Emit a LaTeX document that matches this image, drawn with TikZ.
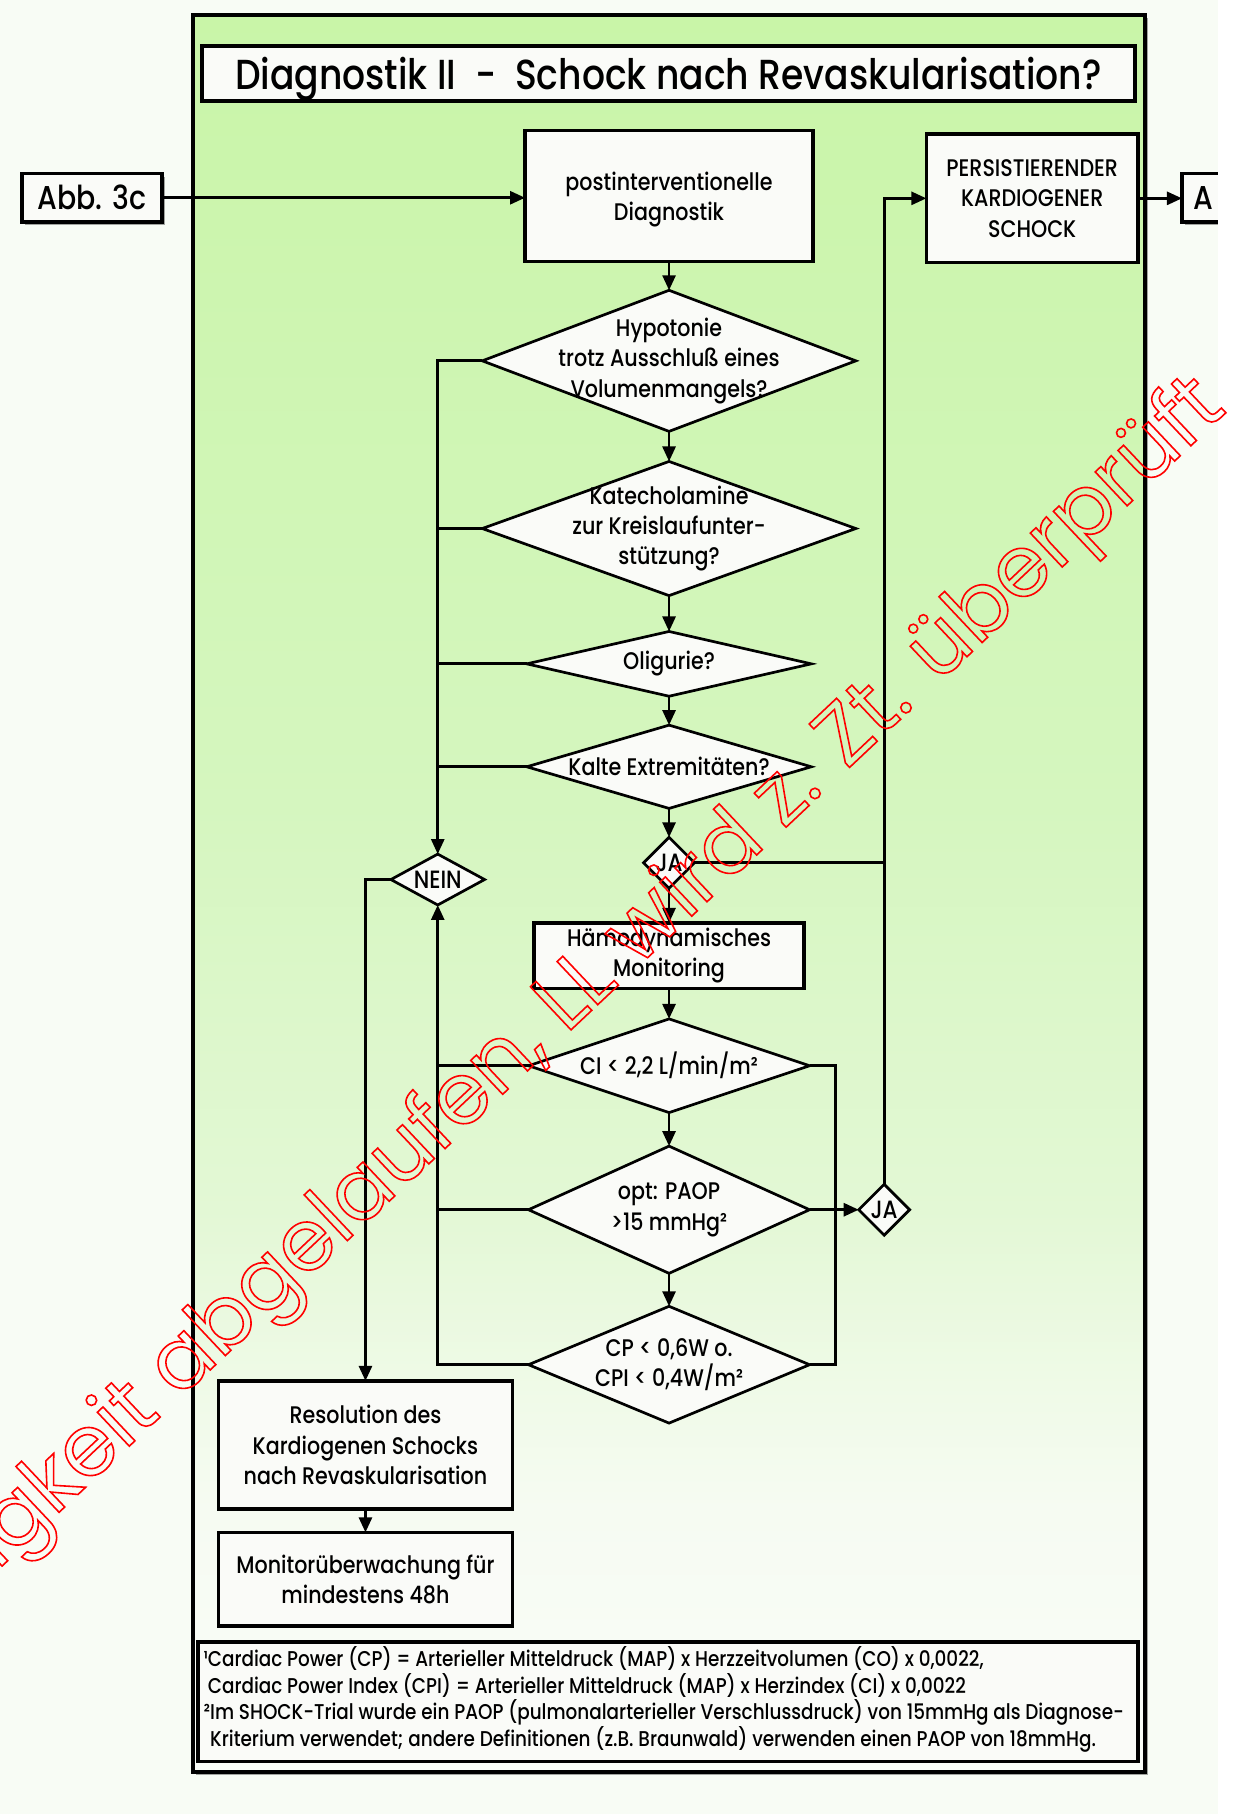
\documentclass[tikz,border=0pt]{standalone}
\usepackage{fontspec}
\IfFontExistsTF{Poppins Medium}
  {\setmainfont{Poppins Medium}[FakeStretch=0.86]}
  {\setmainfont{Poppins}[FakeStretch=0.86]}
\newfontfamily\wmfont{Poppins}
\usetikzlibrary{shapes.geometric,arrows.meta,shadows}

\newdimen\U \U=0.57825pt

\definecolor{paper}{RGB}{248,252,245}
\definecolor{boxfill}{RGB}{250,251,248}
\definecolor{gA}{RGB}{250,253,248}
\definecolor{gB}{RGB}{246,251,242}
\definecolor{gC}{RGB}{239,250,231}
\definecolor{gD}{RGB}{227,248,213}
\definecolor{gE}{RGB}{213,246,191}
\definecolor{gF}{RGB}{201,245,168}

% background of the panel: green at the top, fading to white at the bottom
\pgfdeclareverticalshading{panelbg}{100bp}{color(0bp)=(gA); color(25bp)=(gA); color(32.5bp)=(gB); color(36bp)=(gC); color(41bp)=(gD); color(52.5bp)=(gE); color(75bp)=(gF); color(100bp)=(gF)}

\tikzset{
  ln/.style={line width=1.35pt},
  arr/.style={ln, -{Triangle[length=7.5pt,width=6.5pt]}},
  rbox/.style={draw, fill=boxfill, inner sep=0pt, outer sep=0pt, align=center,
               line width=1.8pt, font=\fontsize{12}{15.2}\selectfont},
  dbox/.style={diamond, draw, fill=boxfill, line width=1.35pt, inner sep=0pt, outer sep=0pt},
  dtext/.style={align=center, inner sep=0pt, font=\fontsize{12}{15.2}\selectfont},
  stext/.style={dtext, font=\fontsize{12.5}{14}\selectfont},
  sh/.style={drop shadow={shadow xshift=1.6pt, shadow yshift=-1.6pt, opacity=0.35, fill=black}},
}

\begin{document}
\begin{tikzpicture}[x=0.57825pt, y=-0.57825pt]
\useasboundingbox (0,0) rectangle (1067,1568.5);
\fill[paper] (0,0) rectangle (1053,1568.5);
\fill[white] (1053,0) rectangle (1067,1568.5);

% panel
\shade[shading=panelbg, draw=black, line width=2pt, sh] (167,13) rectangle (990,1532);

% title
\node[rbox, line width=2pt, minimum width=806*\U, minimum height=47*\U, text depth=0pt,
      font=\fontsize{21}{23}\selectfont] (title) at (578,63.5)
      {Diagnostik II\ \ -\ \ Schock nach Revaskularisation?};

% boxes
\node[rbox, sh, minimum width=121*\U, minimum height=42*\U,
      font=\fontsize{16.5}{18}\selectfont] (abb) at (79.5,171) {Abb. 3c};
\node[rbox, minimum width=249*\U, minimum height=113*\U, text depth=0pt] (post) at (578.5,169.5)
      {postinterventionelle\\Diagnostik};
\node[rbox, minimum width=183*\U, minimum height=111*\U] (pers) at (892.5,171.5)
      {PERSISTIERENDER\\KARDIOGENER\\SCHOCK};
\begin{scope}
  \clip (1000,0) rectangle (1053,400);
  \node[rbox, sh, minimum width=100*\U, minimum height=42*\U, text width=80*\U,
        align=left, font=\fontsize{16.5}{18}\selectfont] (abox) at (1072,171) {A};
\end{scope}
\node[rbox, minimum width=233.5*\U, minimum height=56.6*\U] (hemo) at (578.5,826.3)
      {Hämodynamisches\\Monitoring};
\node[rbox, minimum width=254*\U, minimum height=111*\U] (res) at (316,1249.5)
      {Resolution des\\Kardiogenen Schocks\\nach Revaskularisation};
\node[rbox, minimum width=254*\U, minimum height=81*\U] (mon) at (316,1365.5)
      {Monitorüberwachung für\\mindestens 48h};
\node[rbox, minimum width=813*\U, minimum height=103*\U] (foot) at (577.5,1471.5) {};
\node[anchor=west, align=left, inner sep=0pt, font=\fontsize{10.7}{13.3}\selectfont]
      (tfoot) at ([xshift=5*\U, yshift=2*\U]foot.west)
      {¹Cardiac Power (CP) = Arterieller Mitteldruck (MAP) x Herzzeitvolumen (CO) x 0,0022,\\
       \hphantom{¹}Cardiac Power Index (CPI) = Arterieller Mitteldruck (MAP) x Herzindex (CI) x 0,0022\\
       ²Im SHOCK-Trial wurde ein PAOP (pulmonalarterieller Verschlussdruck) von 15mmHg als Diagnose-\\
       \hphantom{²}Kriterium verwendet; andere Definitionen (z.B. Braunwald) verwenden einen PAOP von 18mmHg.};

% decisions
\node[dbox, minimum width=323*\U, minimum height=122*\U] (d1) at (578.5,312) {};
\node[dtext] (t1) at (d1) {Hypotonie\\trotz Ausschluß eines\\Volumenmangels?};
\node[dbox, minimum width=323*\U, minimum height=116*\U] (d2) at (578.5,457) {};
\node[dtext] (t2) at (d2) {Katecholamine\\zur Kreislaufunter-\\stützung?};
\node[dbox, minimum width=246*\U, minimum height=56*\U] (d3) at (578.5,574) {};
\node[dtext] (t3) at (d3) {Oligurie?};
\node[dbox, minimum width=246*\U, minimum height=72*\U] (d4) at (578.5,663) {};
\node[dtext] (t4) at (d4) {Kalte Extremitäten?};
\node[dbox, minimum width=44*\U, minimum height=44*\U] (ja1) at (578.5,746) {};
\node[stext] (tja1) at (ja1) {JA};
\node[dbox, minimum width=81*\U, minimum height=44*\U] (nein) at (378.5,760.5) {};
\node[stext] (tnein) at (nein) {NEIN};
\node[dbox, minimum width=243*\U, minimum height=81*\U] (dci) at (578.5,921.5) {};
\node[dtext] (tci) at (dci) {CI < 2,2 L/min/m²};
\node[dbox, minimum width=243*\U, minimum height=110*\U] (dpa) at (578.5,1046) {};
\node[dtext] (tpa) at (dpa) {opt: PAOP\\>15 mmHg²};
\node[dbox, minimum width=243*\U, minimum height=101*\U] (dcp) at (578.5,1180) {};
\node[dtext] (tcp) at (dcp) {CP < 0,6W o.\\CPI < 0,4W/m²};
\node[dbox, minimum width=44*\U, minimum height=44*\U] (ja2) at (764.5,1046) {};
\node[stext] (tja2) at (ja2) {JA};
\coordinate (rj) at (722.5,1046);

% main column
\draw[arr] (abb.east) -- (abb.east -| post.west);
\draw[arr] (post.south) -- (d1.north);
\draw[arr] (d1.south) -- (d2.north);
\draw[arr] (d2.south) -- (d3.north);
\draw[arr] (d3.south) -- (d4.north);
\draw[arr] (d4.south) -- (ja1.north);
\draw[arr] (ja1.south) -- (hemo.north);
\draw[arr] (hemo.south) -- (dci.north);
\draw[arr] (dci.south) -- (dpa.north);
\draw[arr] (dpa.south) -- (dcp.north);

% NEIN branch
\draw[arr] (d1.west) -| (nein.north);
\draw[ln] (d2.west) -- (d2.west -| nein.north);
\draw[ln] (d3.west) -- (d3.west -| nein.north);
\draw[ln] (d4.west) -- (d4.west -| nein.north);
\draw[arr] (dcp.west) -| (nein.south);
\draw[ln] (dci.west) -- (dci.west -| nein.south);
\draw[ln] (dpa.west) -- (dpa.west -| nein.south);
\draw[arr] (nein.west) -| (res.north);
\draw[arr] (res.south) -- (mon.north);

% JA branch
\draw[ln] (dci.east) -| (rj) |- (dcp.east);
\draw[arr] (dpa.east) -- (ja2.west);
\draw[arr] (ja2.north) |- (pers.west);
\draw[ln] (ja1.east) -- (ja1.east -| ja2.north);
\draw[arr] (pers.east) -- (pers.east -| abox.west);

% stamp, outlined letters
\node[rotate=43.3, anchor=base east, inner sep=0pt, text=red] (stamp) at (1062,355)
  {\wmfont\fontsize{42.5}{42.5}\selectfont\special{pdf:literal direct 1 Tr 0.8 w 1 0 0 RG}Gültigkeit abgelaufen, LL wird z. Zt. überprüft\special{pdf:literal direct 0 Tr}};
\end{tikzpicture}
\end{document}
